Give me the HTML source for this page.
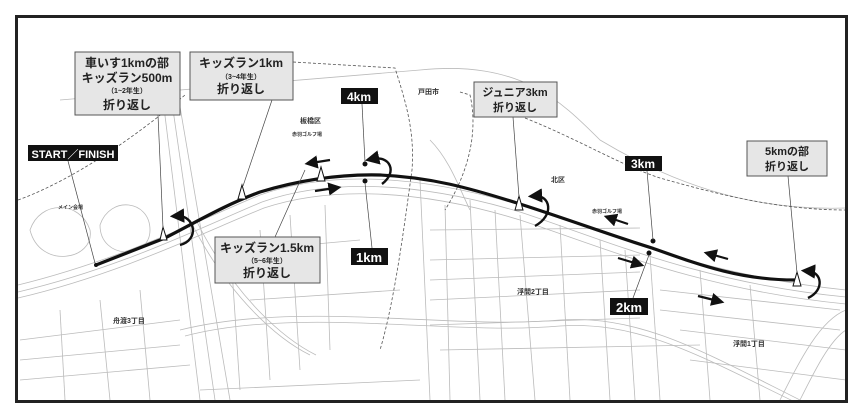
<!DOCTYPE html>
<html><head><meta charset="utf-8"><style>
html,body{margin:0;padding:0;background:#fff}
svg{display:block}
text{font-family:"Liberation Sans","Noto Sans CJK JP",sans-serif;font-weight:bold}
</style></head><body>
<svg width="863" height="420" viewBox="0 0 863 420" xmlns="http://www.w3.org/2000/svg">
<defs>
<marker id="ah" markerWidth="6" markerHeight="6" refX="3" refY="3" orient="auto"><path d="M0,0 L6,3 L0,6 z" fill="#111"/></marker>
</defs>
<rect x="0" y="0" width="863" height="420" fill="#fff"/>
<!-- map lines -->
<g fill="none" stroke="#bbb" stroke-width="0.8">
<path d="M18,285 C120,260 200,220 260,195 C330,170 420,175 520,205 C600,230 700,275 846,290"/>
<path d="M18,292 C120,268 200,228 262,202 C330,178 420,182 520,212 C600,238 700,283 846,297"/>
<path d="M18,298 C120,274 200,234 264,208 C330,186 420,189 520,220 C600,246 700,290 846,304"/>
<path d="M180,330 C300,300 450,330 560,320 C640,315 700,350 800,400"/>
<path d="M185,336 C300,306 450,336 560,326 C640,321 700,356 795,402"/>
<path d="M160,75 L200,400"/><path d="M168,75 L215,400"/><path d="M178,95 L230,400"/>
<path d="M190,220 C230,300 280,340 310,355"/><path d="M196,220 C236,300 286,340 316,355"/>
<path d="M420,180 L430,400"/><path d="M470,200 L480,400"/><path d="M520,215 L535,400"/>
<path d="M560,225 L570,400"/><path d="M600,240 L610,400"/><path d="M650,255 L660,400"/>
<path d="M700,270 L710,400"/><path d="M750,285 L760,400"/>
<path d="M445,205 L450,400"/><path d="M495,210 L505,400"/><path d="M625,250 L635,400"/>
<path d="M250,250 L360,240"/><path d="M250,300 L400,290"/><path d="M20,340 L180,320"/>
<path d="M20,380 L190,365"/><path d="M430,260 L640,255"/><path d="M430,300 L640,290"/>
<path d="M440,350 L700,345"/><path d="M660,310 L840,330"/>
<path d="M230,240 L240,390"/><path d="M260,230 L270,380"/><path d="M290,215 L300,370"/>
<path d="M325,205 L330,350"/><path d="M20,360 L180,345"/><path d="M200,390 L420,380"/>
<path d="M430,230 L640,228"/><path d="M430,280 L640,272"/><path d="M430,325 L640,318"/>
<path d="M660,290 L840,310"/><path d="M680,330 L846,350"/><path d="M690,360 L846,380"/>
<path d="M100,300 L110,400"/><path d="M140,290 L150,400"/><path d="M60,310 L65,400"/>
<path d="M60,100 L420,70 C520,60 560,100 600,140 C700,200 780,210 846,208"/>
<path d="M30,230 C40,200 80,200 90,230 C95,260 40,270 30,230z"/>
<path d="M100,225 C110,195 150,200 150,230 C150,260 100,260 100,225z"/>
<path d="M430,140 C450,160 460,190 470,210"/>
<path d="M780,400 C800,360 820,320 846,310"/><path d="M800,400 C815,370 830,340 846,330"/>
</g>
<!-- dashed boundaries -->
<g fill="none" stroke="#555" stroke-width="0.8" stroke-dasharray="3,2">
<path d="M18,200 C60,185 120,150 185,95"/>
<path d="M293,62 L395,68 C405,100 415,130 412,170 C405,220 395,300 380,350"/>
<path d="M460,92 L470,95 C478,130 470,170 445,210"/>
<path d="M525,118 C580,140 620,165 660,178 C720,195 780,210 846,210"/>
</g>
<!-- course -->
<path d="M96,265 L165,238 C200,220 225,205 260,192 C300,180 340,174 380,175 C430,177 470,188 520,204 C570,220 610,235 652,248 C700,265 740,280 795,280" fill="none" stroke="#111" stroke-width="3.2"/>
<circle cx="96" cy="265" r="2" fill="#111"/>
<!-- cones -->
<g fill="#fff" stroke="#111" stroke-width="1">
<path d="M160,240 L163,227 L167,240z"/><path d="M238,199 L242,185 L246,199z"/>
<path d="M317,181 L321,167 L325,181z"/><path d="M515,210 L519,196 L523,210z"/>
<path d="M793,286 L797,272 L801,286z"/>
</g>
<!-- u-turn arrows -->
<g fill="none" stroke="#111" stroke-width="2.4">
<path d="M180,245 C200,240 195,215 177,216" marker-end="url(#ah)"/>
<path d="M382,184 C398,172 390,155 372,159" marker-end="url(#ah)"/>
<path d="M535,226 C555,215 550,195 535,196" marker-end="url(#ah)"/>
<path d="M808,298 C825,290 822,272 808,271" marker-end="url(#ah)"/>
</g>
<!-- direction arrows -->
<g stroke="#111" stroke-width="2.2" marker-end="url(#ah)">
<line x1="330" y1="160" x2="311" y2="163"/>
<line x1="315" y1="191" x2="335" y2="188"/>
<line x1="628" y1="224" x2="610" y2="218"/>
<line x1="728" y1="259" x2="710" y2="254"/>
<line x1="618" y1="258" x2="638" y2="264"/>
<line x1="698" y1="296" x2="718" y2="301"/>
</g>
<!-- km dots -->
<g fill="#111"><circle cx="365" cy="164" r="2.5"/><circle cx="365" cy="181" r="2.5"/>
<circle cx="653" cy="241" r="2.5"/><circle cx="649" cy="253" r="2.5"/></g>
<!-- leader lines -->
<g stroke="#444" stroke-width="0.7">
<line x1="68" y1="161" x2="95" y2="263"/><line x1="158" y1="115" x2="163" y2="228"/>
<line x1="272" y1="100" x2="243" y2="186"/><line x1="305" y1="170" x2="275" y2="237"/>
<line x1="362" y1="104" x2="365" y2="162"/><line x1="365" y1="183" x2="372" y2="248"/>
<line x1="513" y1="117" x2="519" y2="197"/><line x1="647" y1="171" x2="653" y2="240"/>
<line x1="649" y1="255" x2="633" y2="298"/><line x1="788" y1="176" x2="797" y2="273"/>
</g>
<!-- border -->
<rect x="16.5" y="16.5" width="830" height="385" fill="none" stroke="#222" stroke-width="3"/>
<!-- labels -->
<g fill="#e6e6e6" stroke="#555" stroke-width="1">
<rect x="75" y="52" width="105" height="63"/><rect x="190" y="52" width="103" height="48"/>
<rect x="474" y="82" width="83" height="35"/><rect x="747" y="141" width="80" height="35"/>
<rect x="215" y="237" width="105" height="46"/>
</g>
<g text-anchor="middle" fill="#222">
<text x="127" y="67" font-size="12">車いす1kmの部</text>
<text x="127" y="82" font-size="12">キッズラン500m</text>
<text x="127" y="93" font-size="7">（1~2年生）</text>
<text x="127" y="109" font-size="12">折り返し</text>
<text x="241" y="67" font-size="12">キッズラン1km</text>
<text x="241" y="79" font-size="7">（3~4年生）</text>
<text x="241" y="93" font-size="12">折り返し</text>
<text x="515" y="96" font-size="11">ジュニア3km</text>
<text x="515" y="111" font-size="11">折り返し</text>
<text x="787" y="155" font-size="11">5kmの部</text>
<text x="787" y="170" font-size="11">折り返し</text>
<text x="267" y="252" font-size="12">キッズラン1.5km</text>
<text x="267" y="263" font-size="7">（5~6年生）</text>
<text x="267" y="277" font-size="12">折り返し</text>
</g>
<g fill="#111">
<rect x="28" y="145" width="90" height="16"/><rect x="341" y="88" width="37" height="16"/>
<rect x="351" y="248" width="37" height="17"/><rect x="625" y="156" width="37" height="15"/>
<rect x="610" y="298" width="38" height="17"/>
</g>
<g fill="#fff" text-anchor="middle">
<text x="73" y="158" font-size="11">START／FINISH</text>
<text x="359" y="101" font-size="12">4km</text>
<text x="369" y="262" font-size="13">1km</text>
<text x="643" y="168" font-size="12">3km</text>
<text x="629" y="312" font-size="13">2km</text>
</g>
<g fill="#333" font-size="7">
<text x="300" y="123">板橋区</text><text x="292" y="136" font-size="5">赤羽ゴルフ場</text>
<text x="418" y="94">戸田市</text><text x="551" y="182">北区</text>
<text x="592" y="213" font-size="5">赤羽ゴルフ場</text>
<text x="517" y="294">浮間2丁目</text><text x="733" y="346">浮間1丁目</text>
<text x="113" y="323">舟渡3丁目</text><text x="58" y="209" font-size="5">メイン会場</text>
</g>
</svg>
</body></html>
